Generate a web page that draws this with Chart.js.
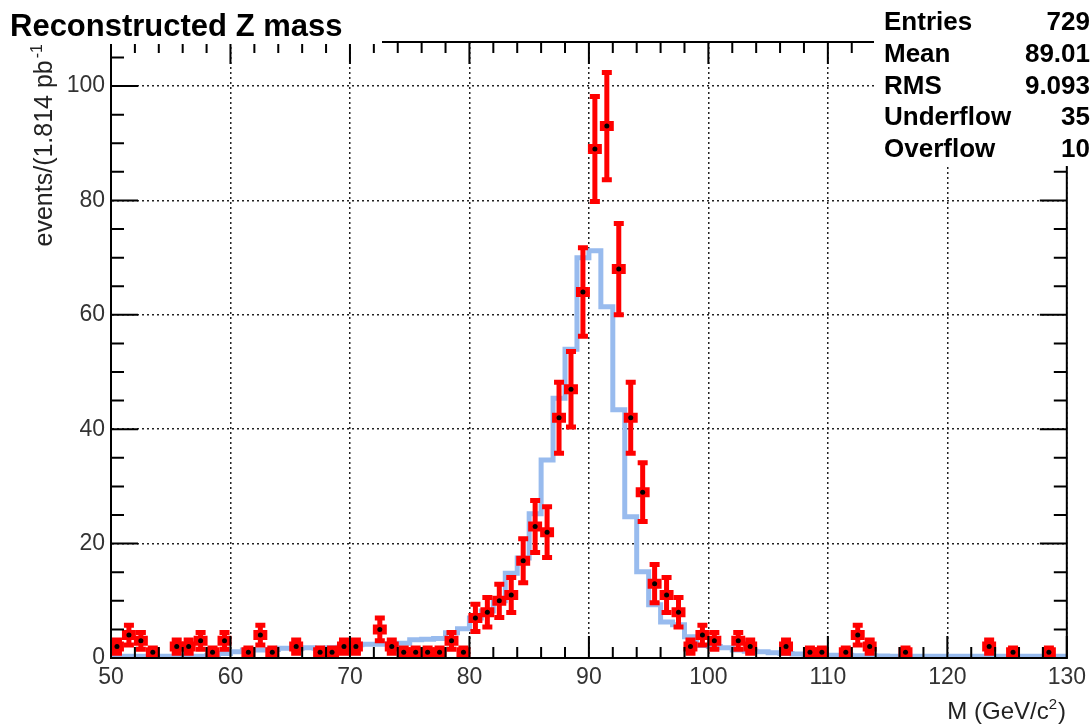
<!DOCTYPE html>
<html>
<head>
<meta charset="utf-8">
<script src="https://cdn.jsdelivr.net/npm/chart.js@4.4.1/dist/chart.umd.min.js"></script>
<style>
  html, body { margin:0; padding:0; background:#fff; }
  #wrap { width:1092px; height:725px; position:relative; }
</style>
</head>
<body>
<div id="wrap"><canvas id="zmass" width="1092" height="725"></canvas></div>
<script>
// histogram bins, 1 GeV wide
const binEdges = [
  50,51,52,53,54,55,56,57,58,59,60,61,62,63,64,65,66,67,68,69,
  70,71,72,73,74,75,76,77,78,79,80,81,82,83,84,85,86,87,88,89,
  90,91,92,93,94,95,96,97,98,99,100,101,102,103,104,105,106,107,108,109,
  110,111,112,113,114,115,116,117,118,119,120,121,122,123,124,125,126,127,128,129,130
];
// observed events per bin (red points)
const dataCounts = [
  2,4,3,1,0,2,2,3,1,3,
  0,1,4,1,0,2,0,1,1,2,
  2,0,5,2,1,1,1,1,3,1,
  7,8,10,11,17,23,22,42,47,64,
  89,93,68,42,29,13,11,8,2,4,
  3,0,3,2,0,0,2,0,1,1,
  0,1,4,2,0,0,1,0,0,0,
  0,0,0,2,0,1,0,0,1,0
];
// expected shape (blue histogram)
const mcExpected = [
  0.3,0.3,0.3,0.3,0.3,0.3,0.3,0.3,0.4,0.8,
  1.1,1.4,1.4,1.5,1.7,1.7,1.8,1.7,1.8,1.9,
  2.3,2.4,2.4,2.5,2.6,3.2,3.3,3.4,4.4,5.1,
  7.0,8.2,10.0,14.8,17.5,25.2,34.6,45.4,54.0,70.0,
  71.2,61.4,43.4,24.7,15.1,9.3,6.3,5.8,3.7,2.2,
  2.0,1.8,1.4,1.2,1.1,0.9,0.8,0.7,0.6,0.5,
  0.5,0.5,0.4,0.4,0.35,0.3,0.3,0.3,0.3,0.3,
  0.3,0.3,0.3,0.3,0.3,0.3,0.3,0.3,0.3,0.3
];
const xTickLabels = [50,60,70,80,90,100,110,120,130];
const yTickLabels = [0,20,40,60,80,100];
const statNames  = ["Entries","Mean","RMS","Underflow","Overflow"];
const statValues = ["729","89.01","9.093","35","10"];

const FONT = "'Liberation Sans', Arial, sans-serif";
const RED = "#ff0000";
const BLUE = "#98bbee";

// step line: point at each left edge + closing point at the last edge
const stepPts = mcExpected.map((v, i) => ({ x: binEdges[i], y: v }));
stepPts.push({ x: binEdges[binEdges.length - 1], y: mcExpected[mcExpected.length - 1] });

const dataPts = [];
dataCounts.forEach((n, i) => {
  if (n > 0) dataPts.push({ x: (binEdges[i] + binEdges[i + 1]) / 2, y: n, lo: binEdges[i], hi: binEdges[i + 1] });
});

const rootStyle = {
  id: "rootStyle",
  beforeDatasetDraw(chart, args) {
    if (chart.data.datasets[args.index].label !== "data") return;
    const { ctx, scales: { x, y } } = chart;
    ctx.save();
    ctx.strokeStyle = RED;
    ctx.lineWidth = 5;
    ctx.lineCap = "butt";
    for (const p of dataPts) {
      const err = Math.sqrt(p.y);
      const cx = x.getPixelForValue(p.x);
      const cy = y.getPixelForValue(p.y);
      const yt = y.getPixelForValue(p.y + err);
      const yb = y.getPixelForValue(Math.max(0, p.y - err));
      const xl = x.getPixelForValue(p.lo);
      const xr = x.getPixelForValue(p.hi);
      ctx.beginPath();
      ctx.moveTo(cx, yt); ctx.lineTo(cx, yb);
      ctx.moveTo(cx - 5, yt + 1.5); ctx.lineTo(cx + 5, yt + 1.5);
      ctx.moveTo(cx - 5, yb - 1.5); ctx.lineTo(cx + 5, yb - 1.5);
      ctx.moveTo(xl, cy); ctx.lineTo(xr, cy);
      ctx.moveTo(xl + 1.5, cy - 5); ctx.lineTo(xl + 1.5, cy + 5);
      ctx.moveTo(xr - 1.5, cy - 5); ctx.lineTo(xr - 1.5, cy + 5);
      ctx.stroke();
    }
    ctx.restore();
  },
  afterDraw(chart) {
    const { ctx, chartArea: a, scales: { x, y } } = chart;
    ctx.save();
    ctx.strokeStyle = "#000";
    ctx.lineWidth = 2;
    // frame
    ctx.strokeRect(a.left, a.top, a.right - a.left, a.bottom - a.top);
    // inward ticks
    ctx.beginPath();
    for (let v = 50; v <= 130; v += 2) {
      const px = x.getPixelForValue(v);
      const len = v % 10 === 0 ? 22 : 11;
      ctx.moveTo(px, a.bottom); ctx.lineTo(px, a.bottom - len);
      ctx.moveTo(px, a.top); ctx.lineTo(px, a.top + len);
    }
    for (let v = 0; v <= 105; v += 5) {
      const py = y.getPixelForValue(v);
      const len = v % 20 === 0 ? 27 : 13;
      ctx.moveTo(a.left, py); ctx.lineTo(a.left + len, py);
      ctx.moveTo(a.right, py); ctx.lineTo(a.right - len, py);
    }
    ctx.stroke();

    // title pave and stats pave cover the frame corners
    ctx.fillStyle = "#fff";
    ctx.fillRect(0, 0, 382, 44);
    ctx.fillRect(874, 0, 218, 166);

    ctx.fillStyle = "#000";
    ctx.font = "bold 31px " + FONT;
    ctx.textAlign = "left";
    ctx.textBaseline = "alphabetic";
    ctx.fillText("Reconstructed Z mass", 10, 36);

    ctx.font = "bold 26px " + FONT;
    statNames.forEach((s, i) => {
      const by = 30 + i * 31.8;
      ctx.textAlign = "left";
      ctx.fillText(s, 884, by);
      ctx.textAlign = "right";
      ctx.fillText(statValues[i], 1090, by);
    });

    // y axis title (rotated, right-aligned to top)
    ctx.fillStyle = "#222";
    ctx.save();
    ctx.translate(52, 44);
    ctx.rotate(-Math.PI / 2);
    ctx.textAlign = "right";
    ctx.font = "16px " + FONT;
    const supW = ctx.measureText("-1").width;
    ctx.fillText("-1", 0, -10);
    ctx.font = "25px " + FONT;
    ctx.fillText("events/(1.814 pb", -supW - 2, 0);
    ctx.restore();

    // x axis title
    ctx.textAlign = "left";
    const t1 = "M (GeV/c", t3 = ")";
    ctx.font = "15px " + FONT;
    const w2 = ctx.measureText("2").width;
    ctx.font = "24px " + FONT;
    const w1 = ctx.measureText(t1).width, w3 = ctx.measureText(t3).width;
    const x0 = 1066 - (w1 + w2 + w3 + 1);
    ctx.fillText(t1, x0, 719);
    ctx.font = "15px " + FONT;
    ctx.fillText("2", x0 + w1, 709);
    ctx.font = "24px " + FONT;
    ctx.fillText(t3, x0 + w1 + w2 + 1, 719);
    ctx.restore();
  }
};

new Chart(document.getElementById("zmass"), {
  type: "line",
  data: {
    datasets: [
      {
        label: "data",
        data: dataPts,
        showLine: false,
        pointStyle: "circle",
        pointRadius: 2.5,
        pointBackgroundColor: "#000",
        pointBorderColor: "#000",
        pointBorderWidth: 0,
        order: 0
      },
      {
        label: "mc",
        data: stepPts,
        stepped: "before",
        borderColor: BLUE,
        borderWidth: 5,
        pointRadius: 0,
        fill: false,
        order: 1
      }
    ]
  },
  plugins: [rootStyle],
  options: {
    responsive: false,
    animation: false,
    events: [],
    layout: { padding: { left: 0, top: 42, right: 24, bottom: 0 }, autoPadding: false },
    plugins: { legend: { display: false }, tooltip: { enabled: false }, title: { display: false } },
    scales: {
      x: {
        type: "linear",
        min: 50, max: 130,
        afterFit: s => { s.height = 67; },
        afterBuildTicks: s => { s.ticks = xTickLabels.map(v => ({ value: v })); },
        ticks: { font: { family: FONT, size: 23 }, color: "#333", padding: 6, maxRotation: 0, autoSkip: false },
        grid: { color: "#222", lineWidth: 1.5, drawTicks: false },
        border: { display: true, color: "#000", width: 2, dash: [2, 3] }
      },
      y: {
        type: "linear",
        min: 0, max: 107.7,
        afterFit: s => { s.width = 111; },
        afterBuildTicks: s => { s.ticks = yTickLabels.map(v => ({ value: v })); },
        ticks: { font: { family: FONT, size: 23 }, color: "#333", padding: 6 },
        grid: { color: "#222", lineWidth: 1.5, drawTicks: false },
        border: { display: true, color: "#000", width: 2, dash: [2, 3] }
      }
    }
  }
});
</script>
</body>
</html>
